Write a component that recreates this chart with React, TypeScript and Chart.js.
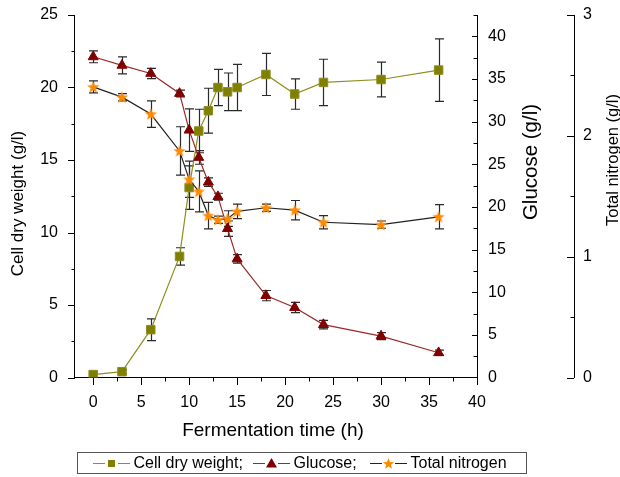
import React, { useEffect, useRef } from 'react';
import { Chart, registerables } from 'chart.js';

Chart.register(...registerables);

// ---------- data ----------
const timeH = [0, 3, 6, 9, 10, 11, 12, 13, 14, 15, 18, 21, 24, 30, 36];
const cellDryWeight = [0.2, 0.4, 3.3, 8.35, 13.1, 17.0, 18.4, 20.0, 19.7, 20.0, 20.9, 19.55, 20.35, 20.55, 21.2];
const cellDryWeightErr = [0.15, 0.15, 0.75, 0.6, 1.5, 1.5, 1.55, 1.25, 1.3, 1.6, 1.45, 1.05, 1.6, 1.2, 2.15];
const glucose = [37.6, 36.6, 35.65, 33.3, 29.0, 25.8, 22.9, 21.2, 17.45, 13.9, 9.6, 8.2, 6.2, 4.85, 2.9];
const glucoseErr = [0.7, 1.0, 0.6, 0.4, 2.5, 0.8, 0.5, 0.4, 0.9, 0.5, 0.6, 0.6, 0.5, 0.4, 0.3];
const totalNitrogen = [2.405, 2.32, 2.18, 1.875, 1.64, 1.54, 1.34, 1.305, 1.315, 1.375, 1.405, 1.385, 1.285, 1.265, 1.33];
const totalNitrogenErr = [0.05, 0.03, 0.11, 0.2, 0.15, 0.17, 0.11, 0.03, 0.065, 0.06, 0.03, 0.08, 0.055, 0.03, 0.1];

const xTicks = [0, 5, 10, 15, 20, 25, 30, 35, 40];
const cdwTicks = [0, 5, 10, 15, 20, 25];
const glucoseTicks = [0, 5, 10, 15, 20, 25, 30, 35, 40];
const nitrogenTicks = [0, 1, 2, 3];

const seriesLabels = ['Cell dry weight', 'Glucose', 'Total nitrogen'];
const xTitle = 'Fermentation time (h)';
const cdwTitle = 'Cell dry weight (g/l)';
const glucoseTitle = 'Glucose (g/l)';
const nitrogenTitle = 'Total nitrogen (g/l)';

// ---------- styles ----------
const FONT = '"Liberation Sans", Arial, Helvetica, sans-serif';
const OLIVE = '#808000';
const OLIVE_LINE = '#8f8f1f';
const DARKRED = '#800000';
const DARKRED_LINE = '#9b2a2a';
const ORANGE = '#FF8A00';
const NITRO_LINE = '#222222';
const CLEAR = 'rgba(0,0,0,0)';

function makeStar(color: string, R: number, r: number): HTMLCanvasElement {
  const size = 14;
  const c = document.createElement('canvas');
  c.width = size;
  c.height = size;
  const ctx = c.getContext('2d')!;
  ctx.translate(size / 2, size / 2 + 0.5);
  ctx.beginPath();
  for (let i = 0; i < 10; i++) {
    const rad = i % 2 === 0 ? R : r;
    const a = -Math.PI / 2 + (i * Math.PI) / 5;
    ctx.lineTo(rad * Math.cos(a), rad * Math.sin(a));
  }
  ctx.closePath();
  ctx.fillStyle = color;
  ctx.fill();
  return c;
}

function drawStarAt(ctx: CanvasRenderingContext2D, x: number, y: number, R: number, r: number, color: string) {
  ctx.beginPath();
  for (let i = 0; i < 10; i++) {
    const rad = i % 2 === 0 ? R : r;
    const a = -Math.PI / 2 + (i * Math.PI) / 5;
    ctx.lineTo(x + rad * Math.cos(a), y + rad * Math.sin(a));
  }
  ctx.closePath();
  ctx.fillStyle = color;
  ctx.fill();
}

const errorBarPlugin = {
  id: 'errorBars',
  beforeDatasetsDraw(chart: any) {
    const ctx = chart.ctx;
    const xs = chart.scales.x;
    const sets = [
      { vals: cellDryWeight, errs: cellDryWeightErr, axis: 'y' },
      { vals: glucose, errs: glucoseErr, axis: 'yGlu' },
      { vals: totalNitrogen, errs: totalNitrogenErr, axis: 'yN' },
    ];
    ctx.save();
    ctx.strokeStyle = '#2a2a2a';
    ctx.lineWidth = 1.2;
    for (const s of sets) {
      const ys = chart.scales[s.axis];
      timeH.forEach((t, i) => {
        const x = Math.round(xs.getPixelForValue(t)) + 0.5;
        const y1 = ys.getPixelForValue(s.vals[i] - s.errs[i]);
        const y2 = ys.getPixelForValue(s.vals[i] + s.errs[i]);
        ctx.beginPath();
        ctx.moveTo(x, y1);
        ctx.lineTo(x, y2);
        ctx.moveTo(x - 4.5, y1);
        ctx.lineTo(x + 4.5, y1);
        ctx.moveTo(x - 4.5, y2);
        ctx.lineTo(x + 4.5, y2);
        ctx.stroke();
      });
    }
    ctx.restore();
  },
};

const decorPlugin = {
  id: 'decor',
  afterDraw(chart: any) {
    const ctx = chart.ctx as CanvasRenderingContext2D;
    const area = chart.chartArea;
    const xs = chart.scales.x;
    const yL = chart.scales.y;
    const yG = chart.scales.yGlu;
    const yN = chart.scales.yN;
    ctx.save();
    ctx.strokeStyle = '#000';
    ctx.lineWidth = 1;
    const hTick = (x0: number, y: number, len: number) => {
      const yy = Math.round(y) + 0.5;
      ctx.beginPath();
      ctx.moveTo(x0, yy);
      ctx.lineTo(x0 + len, yy);
      ctx.stroke();
    };
    // left axis ticks (outward)
    const lx = Math.round(area.left) + 1;
    for (let v = 0; v <= 25.001; v += 2.5) {
      hTick(lx, yL.getPixelForValue(v), Math.abs(v % 5) < 1e-6 ? -7 : -3.5);
    }
    // bottom ticks (downward)
    const by = Math.round(area.bottom);
    for (let v = 0; v <= 40.001; v += 2.5) {
      const x = Math.round(xs.getPixelForValue(v)) + 0.5;
      const len = Math.abs(v % 5) < 1e-6 ? 7 : 3.5;
      ctx.beginPath();
      ctx.moveTo(x, by);
      ctx.lineTo(x, by + len);
      ctx.stroke();
    }
    // glucose ticks (inward)
    const gx = Math.round(area.right);
    for (let v = 2.5; v <= 42.501; v += 2.5) {
      hTick(gx, yG.getPixelForValue(v), Math.abs(v % 5) < 1e-6 ? -5 : -3.5);
    }
    // nitrogen ticks (inward)
    const nx = Math.round(yN.left);
    for (let v = 0; v <= 3.001; v += 0.5) {
      hTick(nx, yN.getPixelForValue(v), Math.abs(v % 1) < 1e-6 ? -7 : -3.5);
    }

    // titles
    ctx.fillStyle = '#000';
    ctx.textAlign = 'center';
    ctx.textBaseline = 'middle';
    ctx.font = `19px ${FONT}`;
    ctx.fillText(xTitle, 273, 431);
    const vText = (txt: string, x: number, y: number, size: number) => {
      ctx.save();
      ctx.translate(x, y);
      ctx.rotate(-Math.PI / 2);
      ctx.font = `${size}px ${FONT}`;
      ctx.fillText(txt, 0, 0);
      ctx.restore();
    };
    vText(cdwTitle, 18, 203.5, 17);
    vText(glucoseTitle, 531, 162, 20.5);
    vText(nitrogenTitle, 613, 160, 16.5);

    // legend
    ctx.strokeStyle = '#555';
    ctx.lineWidth = 1;
    ctx.strokeRect(77.5, 452.5, 449, 21);
    const ly = 463.5;
    const starts = [93, 253, 370];
    const lines = [OLIVE_LINE, DARKRED_LINE, NITRO_LINE];
    const texts = [seriesLabels[0] + ';', seriesLabels[1] + ';', seriesLabels[2]];
    ctx.font = `16px ${FONT}`;
    ctx.textAlign = 'left';
    starts.forEach((sx, i) => {
      ctx.strokeStyle = lines[i];
      ctx.lineWidth = 1;
      ctx.beginPath();
      ctx.moveTo(sx, ly);
      ctx.lineTo(sx + 12, ly);
      ctx.moveTo(sx + 25, ly);
      ctx.lineTo(sx + 37, ly);
      ctx.stroke();
      const mx = sx + 18.5;
      if (i === 0) {
        ctx.fillStyle = OLIVE;
        ctx.fillRect(mx - 3.5, ly - 3.5, 7, 7);
      } else if (i === 1) {
        ctx.fillStyle = DARKRED;
        ctx.beginPath();
        ctx.moveTo(mx, ly - 5.5);
        ctx.lineTo(mx + 5.5, ly + 4);
        ctx.lineTo(mx - 5.5, ly + 4);
        ctx.closePath();
        ctx.fill();
      } else {
        drawStarAt(ctx, mx, ly + 0.5, 6, 2.5, ORANGE);
      }
      ctx.fillStyle = '#000';
      ctx.fillText(texts[i], sx + 40.5, ly);
    });
    ctx.restore();
  },
};

export default function App() {
  const ref = useRef<HTMLCanvasElement | null>(null);
  useEffect(() => {
    if (!ref.current) return;
    const star = makeStar(ORANGE, 6.5, 2.7);
    const tickFont = { family: FONT, size: 16 };
    const fixTicks = (vals: number[]) => (s: any) => {
      s.ticks = vals.map((v) => ({ value: v }));
    };
    // invisible tick marks used only as label offset
    const offsetGrid = (len: number) => ({
      display: true,
      drawOnChartArea: false,
      drawTicks: true,
      tickLength: len,
      color: CLEAR,
      tickColor: CLEAR,
    });
    const chart = new Chart(ref.current, {
      type: 'line',
      data: {
        datasets: [
          {
            label: seriesLabels[0],
            data: timeH.map((t, i) => ({ x: t, y: cellDryWeight[i] })),
            yAxisID: 'y',
            borderColor: OLIVE_LINE,
            borderWidth: 1.2,
            pointStyle: 'rect',
            pointRadius: 6,
            pointBackgroundColor: OLIVE,
            pointBorderColor: '#8c8c20',
            pointBorderWidth: 1,
            tension: 0,
            order: 3,
          },
          {
            label: seriesLabels[1],
            data: timeH.map((t, i) => ({ x: t, y: glucose[i] })),
            yAxisID: 'yGlu',
            borderColor: DARKRED_LINE,
            borderWidth: 1.2,
            pointStyle: 'triangle',
            pointRadius: 5.8,
            pointBackgroundColor: DARKRED,
            pointBorderColor: DARKRED,
            pointBorderWidth: 1,
            tension: 0,
            order: 2,
          },
          {
            label: seriesLabels[2],
            data: timeH.map((t, i) => ({ x: t, y: totalNitrogen[i] })),
            yAxisID: 'yN',
            borderColor: NITRO_LINE,
            borderWidth: 1.2,
            pointStyle: star as any,
            pointRadius: 6,
            tension: 0,
            order: 1,
          },
        ],
      },
      options: {
        animation: false,
        responsive: false,
        maintainAspectRatio: false,
        layout: { padding: { left: 0, right: 6, top: 15, bottom: 29.5 } },
        plugins: { legend: { display: false }, tooltip: { enabled: false } },
        scales: {
          x: {
            type: 'linear',
            position: 'bottom',
            min: -2,
            max: 40,
            afterBuildTicks: fixTicks(xTicks),
            afterFit: (s: any) => { s.height = 70; },
            grid: offsetGrid(15),
            border: { display: true, color: '#000', width: 1 },
            ticks: { font: tickFont, color: '#000', padding: 0, maxRotation: 0, autoSkip: false },
          },
          y: {
            type: 'linear',
            position: 'left',
            min: 0,
            max: 25,
            afterBuildTicks: fixTicks(cdwTicks),
            afterFit: (s: any) => { s.width = 74; },
            grid: offsetGrid(16),
            border: { display: true, color: '#000', width: 1 },
            ticks: { font: tickFont, color: '#000', padding: 0, autoSkip: false },
          },
          yGlu: {
            type: 'linear',
            position: 'right',
            min: 0,
            max: 42.5,
            afterBuildTicks: fixTicks(glucoseTicks),
            afterFit: (s: any) => { s.width = 97; },
            grid: offsetGrid(11),
            border: { display: true, color: '#000', width: 1 },
            ticks: { font: tickFont, color: '#000', padding: 0, autoSkip: false },
          },
          yN: {
            type: 'linear',
            position: 'right',
            min: 0,
            max: 3,
            afterBuildTicks: fixTicks(nitrogenTicks),
            afterFit: (s: any) => { s.width = 40; },
            grid: offsetGrid(9),
            border: { display: true, color: '#000', width: 1 },
            ticks: { font: tickFont, color: '#000', padding: 0, autoSkip: false },
          },
        },
      } as any,
      plugins: [errorBarPlugin, decorPlugin],
    });
    return () => chart.destroy();
  }, []);
  return (
    <div style={{ position: 'fixed', left: 0, top: 0, width: 620, height: 477, background: '#fff' }}>
      <canvas ref={ref} width={620} height={477} style={{ width: 620, height: 477, display: 'block' }} />
    </div>
  );
}
